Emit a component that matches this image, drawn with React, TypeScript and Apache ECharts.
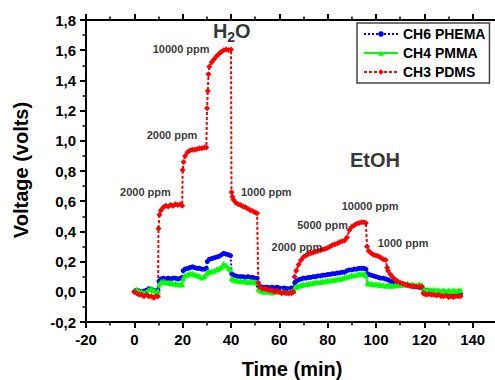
import React, { useEffect, useRef } from "react";
import * as echarts from "echarts";

// Time (min), Voltage (volts)
const ch6Phema: [number, number][] = [
  [0, 0.0], [1, 0.01], [2, 0.005], [3, 0.0], [4, 0.005], [5, 0.01], [6, 0.02], [7, 0.015], [8, 0.01], [9, 0.005], [9.8, 0.01],
  [10.2, 0.07], [11, 0.085], [12, 0.09], [13, 0.085], [14, 0.09], [15, 0.085], [16, 0.09], [17, 0.09], [18, 0.085], [19, 0.09], [19.8, 0.095],
  [20.2, 0.14], [21, 0.15], [22, 0.155], [23, 0.16], [24, 0.165], [25, 0.16], [26, 0.155], [27, 0.155], [28, 0.15], [29, 0.15], [29.8, 0.155],
  [30.2, 0.2], [31, 0.215], [32, 0.22], [33, 0.225], [34, 0.23], [35, 0.235], [36, 0.245], [37, 0.255], [38, 0.25], [39, 0.245], [39.8, 0.24],
  [40.3, 0.12], [41, 0.11], [42, 0.105], [43, 0.1], [44, 0.1], [45, 0.1], [46, 0.095], [47, 0.1], [48, 0.095], [49, 0.095], [50, 0.09], [50.8, 0.09],
  [51.3, 0.04], [52, 0.035], [53, 0.03], [54, 0.03], [55, 0.03], [56, 0.025], [57, 0.03], [58, 0.025], [59, 0.03], [60, 0.025], [61, 0.02], [62, 0.025], [63, 0.02], [64, 0.02], [65, 0.025], [65.8, 0.02],
  [66.4, 0.06], [67, 0.07], [68, 0.08], [69, 0.085], [70, 0.09], [71, 0.09], [72, 0.095], [73, 0.095], [74, 0.1], [75, 0.1], [76, 0.105], [77, 0.105], [78, 0.11], [79, 0.11], [80, 0.115], [81, 0.115], [82, 0.12], [83, 0.12], [84, 0.125], [85, 0.125], [86, 0.13], [87, 0.13], [88, 0.14], [89, 0.145], [90, 0.145], [91, 0.15], [92, 0.15], [93, 0.155], [94, 0.155], [95, 0.155], [95.8, 0.15],
  [96.5, 0.12], [97, 0.115], [98, 0.11], [99, 0.105], [100, 0.1], [101, 0.095], [102, 0.09], [103, 0.09], [104, 0.085], [105, 0.08], [106, 0.07], [107, 0.065], [108, 0.06], [109, 0.055], [110, 0.05], [111, 0.05], [112, 0.045], [113, 0.045], [114, 0.04], [115, 0.04], [116, 0.035], [117, 0.035], [118, 0.03], [119, 0.03], [119.6, 0.015],
  [120, 0.01], [121, 0.01], [122, 0.005], [123, 0.005], [124, 0.0], [125, 0.0], [126, 0.0], [127, -0.005], [128, 0.0], [129, -0.005], [130, -0.01], [131, -0.005], [132, -0.01], [133, -0.005], [134, -0.01], [135, -0.01],
];

const ch4Pmma: [number, number][] = [
  [0, 0.01], [1, 0.015], [2, 0.005], [3, 0.0], [4, -0.005], [5, 0.0], [6, 0.015], [7, 0.02], [8, 0.01], [9, 0.0], [9.8, 0.005],
  [10.2, 0.05], [11, 0.065], [12, 0.07], [13, 0.065], [14, 0.06], [15, 0.06], [16, 0.055], [17, 0.055], [18, 0.05], [19, 0.05], [19.8, 0.05],
  [20.2, 0.09], [21, 0.11], [22, 0.115], [23, 0.125], [24, 0.12], [25, 0.115], [26, 0.11], [27, 0.105], [28, 0.095], [29, 0.105], [29.8, 0.12],
  [30.2, 0.13], [31, 0.135], [32, 0.135], [33, 0.14], [34, 0.15], [35, 0.155], [36, 0.165], [37, 0.185], [38, 0.175], [39, 0.16], [39.8, 0.15],
  [40.3, 0.09], [41, 0.08], [42, 0.075], [43, 0.075], [44, 0.07], [45, 0.07], [46, 0.07], [47, 0.065], [48, 0.07], [49, 0.065], [50, 0.065], [50.8, 0.06],
  [51.3, 0.02], [52, 0.01], [53, 0.005], [54, 0.0], [55, 0.005], [56, 0.0], [57, -0.005], [58, 0.0], [59, 0.005], [60, 0.0], [61, 0.005], [62, 0.0], [63, -0.005], [64, 0.0], [65, 0.0], [65.8, 0.005],
  [66.4, 0.03], [67, 0.035], [68, 0.04], [69, 0.045], [70, 0.05], [71, 0.05], [72, 0.055], [73, 0.055], [74, 0.06], [75, 0.065], [76, 0.065], [77, 0.065], [78, 0.07], [79, 0.07], [80, 0.075], [81, 0.075], [82, 0.08], [83, 0.08], [84, 0.085], [85, 0.085], [86, 0.09], [87, 0.095], [88, 0.1], [89, 0.105], [90, 0.11], [91, 0.11], [92, 0.115], [93, 0.12], [94, 0.12], [95, 0.12], [95.8, 0.11],
  [96.5, 0.06], [97, 0.055], [98, 0.055], [99, 0.05], [100, 0.05], [101, 0.05], [102, 0.045], [103, 0.045], [104, 0.04], [105, 0.045], [106, 0.04], [107, 0.04], [108, 0.045], [109, 0.045], [110, 0.045], [111, 0.05], [112, 0.05], [113, 0.055], [114, 0.045], [115, 0.05], [116, 0.045], [117, 0.045], [118, 0.05], [119, 0.045], [119.6, 0.02],
  [120, 0.015], [121, 0.015], [122, 0.01], [123, 0.01], [124, 0.015], [125, 0.01], [126, 0.01], [127, 0.005], [128, 0.01], [129, 0.005], [130, 0.01], [131, 0.005], [132, 0.01], [133, 0.005], [134, 0.01], [135, 0.01],
];

const ch3Pdms: [number, number][] = [
  [0, 0.0], [1, -0.01], [2, -0.02], [3, -0.02], [4, -0.03], [5, -0.02], [6, -0.03], [7, -0.03], [8, -0.04], [9, -0.03], [9.8, -0.03],
  [10, 0.42], [10.4, 0.51], [11, 0.54], [12, 0.56], [13, 0.57], [14, 0.565], [15, 0.575], [16, 0.57], [17, 0.58], [18, 0.575], [19, 0.58], [19.8, 0.57],
  [20, 0.806], [20.4, 0.86], [21, 0.9], [22, 0.925], [23, 0.935], [24, 0.94], [25, 0.94], [26, 0.945], [27, 0.95], [28, 0.95], [29, 0.955], [29.8, 0.955],
  [30.1, 1.215], [30.4, 1.33], [30.7, 1.44], [31, 1.49], [32, 1.52], [33, 1.54], [34, 1.56], [35, 1.575], [36, 1.59], [37, 1.6], [38, 1.605], [39, 1.6], [40, 1.605],
  [40.2, 0.66], [40.6, 0.63], [41, 0.61], [42, 0.59], [43, 0.58], [44, 0.575], [45, 0.565], [46, 0.56], [47, 0.55], [48, 0.54], [49, 0.535], [50, 0.525], [50.8, 0.52],
  [51.3, 0.06], [52, 0.03], [53, 0.02], [54, 0.02], [55, 0.015], [56, 0.01], [57, 0.01], [58, 0.0], [59, 0.005], [60, 0.0], [61, -0.01], [62, -0.005], [63, -0.01], [64, -0.01], [65, -0.01], [65.8, 0.0],
  [66.3, 0.1], [67, 0.14], [68, 0.18], [69, 0.21], [70, 0.23], [71, 0.24], [72, 0.25], [73, 0.255], [74, 0.26], [75, 0.265], [76, 0.27], [77, 0.275], [78, 0.28], [79, 0.285], [80, 0.29], [81, 0.3], [82, 0.31], [83, 0.315], [84, 0.32], [85, 0.33], [86, 0.335], [87, 0.34], [88, 0.36], [89, 0.41], [90, 0.43], [91, 0.44], [92, 0.45], [93, 0.455], [94, 0.46], [95, 0.46], [95.8, 0.455],
  [96.3, 0.3], [97, 0.27], [98, 0.255], [99, 0.245], [100, 0.24], [101, 0.235], [102, 0.225], [103, 0.215], [104, 0.21], [104.6, 0.16], [105, 0.14], [106, 0.115], [107, 0.095], [108, 0.08], [109, 0.07], [110, 0.06], [111, 0.055], [112, 0.05], [113, 0.045], [114, 0.04], [115, 0.035], [116, 0.035], [117, 0.033], [118, 0.035], [119, 0.033], [119.6, -0.01],
  [120, -0.015], [121, -0.02], [122, -0.015], [123, -0.02], [124, -0.02], [125, -0.025], [126, -0.02], [127, -0.03], [128, -0.03], [129, -0.025], [130, -0.035], [131, -0.03], [132, -0.035], [133, -0.03], [134, -0.03], [135, -0.03],
];

const seriesNames = ["CH6 PHEMA", "CH4 PMMA", "CH3 PDMS"];

// annotation labels anchored at (time, voltage), left-middle of the text
const ppmLabels: { text: string; t: number; v: number }[] = [
  { text: "10000 ppm", t: 7.6, v: 1.61 },
  { text: "2000 ppm", t: 5.1, v: 1.038 },
  { text: "2000 ppm", t: -5.9, v: 0.662 },
  { text: "1000 ppm", t: 44.1, v: 0.658 },
  { text: "2000 ppm", t: 56.8, v: 0.298 },
  { text: "5000 ppm", t: 67.4, v: 0.442 },
  { text: "10000 ppm", t: 85.8, v: 0.568 },
  { text: "1000 ppm", t: 100.7, v: 0.32 },
];
const gasLabels: { text: string; t: number; v: number }[] = [
  { text: "{h|H}{s|2}{h|O}", t: 32.5, v: 1.73 },
  { text: "{h|EtOH}", t: 89.2, v: 0.87 },
];

const FONT = "Arial, 'Liberation Sans', sans-serif";

export default function App() {
  const ref = useRef<HTMLDivElement>(null);
  useEffect(() => {
    if (!ref.current) return;
    const chart = echarts.init(ref.current, null, { renderer: "svg" });
    const axisCommon = {
      axisLine: { show: true, onZero: false, lineStyle: { color: "#000", width: 2 } },
      axisTick: { show: true, inside: false, length: 6, lineStyle: { color: "#000", width: 2 } },
      minorTick: { show: true, splitNumber: 2, length: 3.5, lineStyle: { color: "#000", width: 1.5 } },
      splitLine: { show: false },
    };
    const lineSeries = (name: string, data: [number, number][], color: string, symbol: string, size: number, type: any, width: number) => ({
      name,
      type: "line",
      data,
      symbol,
      symbolSize: size,
      showSymbol: true,
      showAllSymbol: true,
      itemStyle: { color },
      lineStyle: { color, type, width },
      emphasis: { disabled: true },
      clip: true,
    });
    chart.setOption({
      animation: false,
      backgroundColor: "#fff",
      textStyle: { fontFamily: FONT },
      grid: { left: 86, top: 20, width: 435, height: 302, outerBoundsMode: "none", containLabel: false },
      legend: {
        data: seriesNames,
        orient: "vertical",
        left: 357,
        top: 23,
        padding: [4, 4, 4, 6],
        itemGap: 5,
        itemWidth: 34,
        itemHeight: 7,
        backgroundColor: "#fff",
        borderColor: "#444",
        borderWidth: 1.5,
        borderRadius: 0,
        textStyle: { fontSize: 14, fontWeight: "bold", color: "#000", fontFamily: FONT },
      },
      xAxis: [
        {
          type: "value",
          position: "bottom",
          min: -20,
          max: 160,
          interval: 20,
          ...axisCommon,
          axisLabel: {
            fontSize: 15,
            fontWeight: "bold",
            color: "#000",
            margin: 10,
            fontFamily: FONT,
            formatter: (v: number) => (v > 140 ? "" : String(v)),
          },
        },
        {
          type: "value",
          position: "top",
          min: -20,
          max: 160,
          interval: 20,
          ...axisCommon,
          axisLabel: { show: false },
        },
      ],
      yAxis: {
        type: "value",
        min: -0.2,
        max: 1.8,
        interval: 0.2,
        ...axisCommon,
        axisLabel: {
          fontSize: 15,
          fontWeight: "bold",
          color: "#000",
          margin: 10,
          fontFamily: FONT,
          formatter: (v: number) => v.toFixed(1).replace(".", ","),
        },
      },
      series: [
        lineSeries(seriesNames[0], ch6Phema, "#0000ff", "circle", 5, "dotted", 2),
        lineSeries(seriesNames[1], ch4Pmma, "#00ff00", "triangle", 6, "solid", 2),
        lineSeries(seriesNames[2], ch3Pdms, "#ff0000", "diamond", 6, [3, 2], 2),
        {
          type: "scatter",
          name: "labels",
          symbolSize: 0,
          silent: true,
          z: 10,
          data: [
            ...ppmLabels.map((l) => ({
              value: [l.t, l.v],
              label: { show: true, position: "right", distance: 0, formatter: l.text, fontSize: 11, fontWeight: "bold", color: "#000", fontFamily: FONT },
            })),
            ...gasLabels.map((l) => ({
              value: [l.t, l.v],
              label: {
                show: true,
                position: "right",
                distance: 0,
                formatter: l.text,
                rich: {
                  h: { fontSize: 20, fontWeight: "bold", color: "#000", fontFamily: FONT },
                  s: { fontSize: 14, fontWeight: "bold", color: "#000", fontFamily: FONT, padding: [12, 0, 0, 0] },
                },
              },
            })),
          ],
        },
      ],
      graphic: [
        {
          type: "text",
          x: 292,
          y: 369,
          style: { text: "Time (min)", fontSize: 20, fontWeight: "bold", fill: "#000", align: "center", verticalAlign: "middle", fontFamily: FONT },
        },
        {
          type: "text",
          x: 21,
          y: 170,
          rotation: Math.PI / 2,
          style: { text: "Voltage (volts)", fontSize: 20, fontWeight: "bold", fill: "#000", align: "center", verticalAlign: "middle", fontFamily: FONT },
        },
      ],
    });
    return () => chart.dispose();
  }, []);
  return <div ref={ref} style={{ position: "absolute", left: 0, top: 0, width: 495, height: 380 }} />;
}
